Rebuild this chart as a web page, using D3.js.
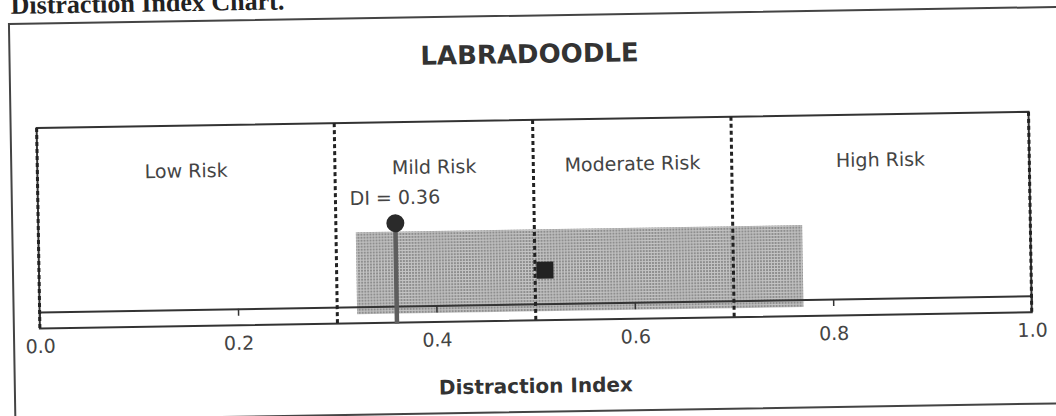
<!DOCTYPE html>
<html>
<head>
<meta charset="utf-8">
<script src="https://cdn.jsdelivr.net/npm/d3@7"></script>
<style>
  html, body { margin: 0; padding: 0; background: #fff; overflow: hidden; }
  svg { display: block; }
</style>
</head>
<body>
<div id="chart"></div>
<script>
// chart data
const breedName = 'LABRADOODLE';
const zoneEdges = [0, 0.3, 0.5, 0.7, 1.0];
const zoneLabels = ['Low Risk', 'Mild Risk', 'Moderate Risk', 'High Risk'];
const tickValues = [0, 0.2, 0.4, 0.6, 0.8, 1.0];
const breedRange = [0.32, 0.77];   // shaded band
const breedMean = [0.51];          // square marker
const dogDI = [0.36];              // lollipop marker

const svg_width = 1056, svg_height = 416;
const box = { left: 38, right: 1030, top: 120, bottom: 320.5 };
const axisY = 304;   // inner axis line

const svg = d3.select('#chart').append('svg')
  .attr('width', svg_width).attr('height', svg_height);

// stipple pattern for the breed band
const defs = svg.append('defs');
const pat = defs.append('pattern').attr('id', 'stipple')
  .attr('patternUnits', 'userSpaceOnUse').attr('width', 3).attr('height', 3);
pat.append('rect').attr('width', 3).attr('height', 3).attr('fill', '#c4c4c4');
pat.append('rect').attr('width', 2).attr('height', 2).attr('fill', '#8e8e8e');

// the scanned page is a little tilted
const page = svg.append('g').attr('transform', 'rotate(-0.93, 528, 208)');

// header text + outer frame
page.append('text')
  .attr('x', 14).attr('y', 5.5)
  .style('font-family', '"Liberation Serif", serif').style('font-weight', 'bold')
  .style('font-size', '26px').style('fill', '#222')
  .text('Distraction Index Chart.');

page.append('path')
  .attr('d', `M1070,15.6 H12 V412 H1070`)
  .attr('fill', 'none').attr('stroke', '#444').attr('stroke-width', 2);

// scales
const xScale = d3.scaleLinear().domain([0, 1]).range([box.left, box.right]);

// title
page.append('text')
  .attr('x', 532).attr('y', 63).attr('text-anchor', 'middle')
  .style('font-family', '"DejaVu Sans", Verdana, sans-serif').style('font-weight', 'bold')
  .style('font-size', '26px').style('fill', '#333')
  .text(breedName);

// plot box
page.append('rect')
  .attr('x', xScale(0)).attr('y', box.top)
  .attr('width', xScale(1) - xScale(0)).attr('height', box.bottom - box.top)
  .attr('fill', 'none').attr('stroke', '#333').attr('stroke-width', 2);

// breed band
page.append('rect')
  .attr('x', xScale(breedRange[0])).attr('y', 229.5)
  .attr('width', xScale(breedRange[1]) - xScale(breedRange[0])).attr('height', 82)
  .attr('fill', 'url(#stipple)');

// axis line with ticks
const xAxis = d3.axisBottom(xScale)
  .tickValues(tickValues)
  .tickFormat(d3.format('.1f'))
  .tickSizeInner(7).tickSizeOuter(0).tickPadding(20.5);
const axisG = page.append('g').attr('transform', `translate(0,${axisY})`).call(xAxis);
axisG.select('.domain').attr('stroke', '#333').attr('stroke-width', 2);
axisG.selectAll('.tick line').attr('stroke', '#333').attr('stroke-width', 1.5);
axisG.selectAll('.tick text')
  .style('font-family', '"DejaVu Sans", Verdana, sans-serif')
  .style('font-size', '19px').style('fill', '#444');

// zone dividers
page.selectAll('.divider')
  .data(zoneEdges)
  .enter().append('line')
  .attr('class', 'divider')
  .attr('x1', d => xScale(d)).attr('x2', d => xScale(d))
  .attr('y1', box.top).attr('y2', box.bottom)
  .attr('stroke', '#222').attr('stroke-width', 3)
  .attr('stroke-dasharray', '4,3');

// zone labels
const zones = zoneLabels.map((label, i) => ({ label, mid: (zoneEdges[i] + zoneEdges[i + 1]) / 2 }));
page.selectAll('.zone-label')
  .data(zones)
  .enter().append('text')
  .attr('class', 'zone-label')
  .attr('x', d => xScale(d.mid)).attr('y', 172)
  .attr('text-anchor', 'middle')
  .style('font-family', '"DejaVu Sans", Verdana, sans-serif')
  .style('font-size', '19px').style('fill', '#444')
  .text(d => d.label);

// breed mean marker
page.selectAll('.mean')
  .data(breedMean)
  .enter().append('rect')
  .attr('class', 'mean')
  .attr('x', d => xScale(d) - 8.5).attr('y', 270.5 - 8.5)
  .attr('width', 17).attr('height', 17)
  .attr('fill', '#222');

// dog DI lollipop
const di = page.selectAll('.di').data(dogDI).enter().append('g').attr('class', 'di');
di.append('line')
  .attr('x1', d => xScale(d)).attr('x2', d => xScale(d))
  .attr('y1', 221).attr('y2', box.bottom + 1)
  .attr('stroke', '#5e5e5e').attr('stroke-width', 4.5);
di.append('circle')
  .attr('cx', d => xScale(d)).attr('cy', 221).attr('r', 9)
  .attr('fill', '#2a2a2a');
di.append('text')
  .attr('x', d => xScale(d)).attr('y', 202)
  .attr('text-anchor', 'middle')
  .style('font-family', '"DejaVu Sans", Verdana, sans-serif')
  .style('font-size', '19px').style('fill', '#444')
  .text(d => `DI = ${d.toFixed(2)}`);

// axis title
page.append('text')
  .attr('x', 533).attr('y', 393).attr('text-anchor', 'middle')
  .style('font-family', '"DejaVu Sans", Verdana, sans-serif').style('font-weight', 'bold')
  .style('font-size', '20px').style('fill', '#333')
  .text('Distraction Index');
</script>
</body>
</html>
